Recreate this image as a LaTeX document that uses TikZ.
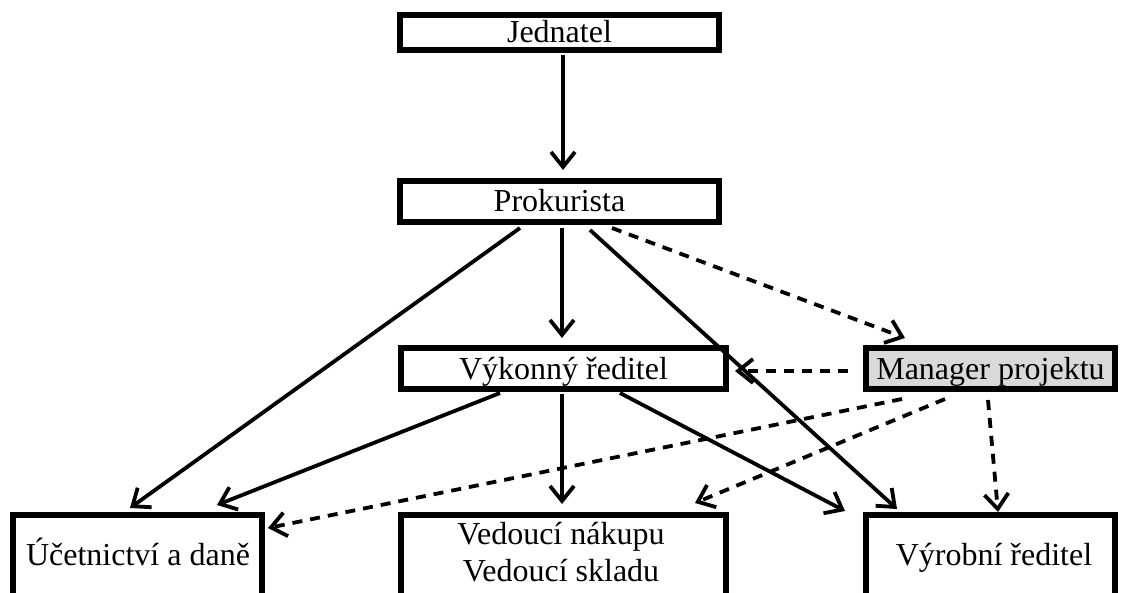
\documentclass[tikz,border=0pt]{standalone}
\usepackage{fontspec}
\setmainfont{Liberation Serif}
\usetikzlibrary{arrows.meta,calc}
\definecolor{mgrfill}{RGB}{217,217,217}
\begin{document}
\begin{tikzpicture}[x=1pt,y=-1pt,
  box/.style={draw=black,line width=6pt,inner sep=0pt,minimum height=41pt,
    font=\fontsize{32}{37}\selectfont,text height=22pt,text depth=1pt},
  lowbox/.style={draw=black,line width=6pt,inner sep=0pt,minimum width=249pt,
    minimum height=150pt,anchor=north},
  txt/.style={inner sep=0pt,font=\fontsize{32}{37}\selectfont},
  conn/.style={line width=3.8pt,-{Straight Barb[length=15pt,width=24pt]}},
  dconn/.style={conn,dash pattern=on 10pt off 8pt}]
\useasboundingbox (0,0) rectangle (1124,593);
\clip (0,0) rectangle (1124,593);
% boxes
\node[box,minimum width=319pt,minimum height=35pt] (J) at (559.5,32.5) {Jednatel};
\node[box,minimum width=319pt] (P) at (559.5,201.5) {Prokurista};
\node[box,minimum width=325pt] (V) at (563.5,368.5) {Výkonný ředitel};
\node[box,minimum width=249pt,fill=mgrfill] (M) at (990.5,368.5) {Manager projektu};
\node[lowbox] (U) at (137.5,512) {};
\node[lowbox,minimum width=325pt] (Ved) at (563.5,512) {};
\node[lowbox] (R) at (990.5,512) {};
\node[txt,anchor=base] (Ut) at (138,565) {Účetnictví a daně};
\node[txt,align=center] (Vedt) at (561,552) {Vedoucí nákupu\\Vedoucí skladu};
\node[txt,anchor=base] (Rt) at (994,565) {Výrobní ředitel};
% solid connectors
\draw[conn] ($(J.south)+(3.5,2)$) -- ($(P.north)+(3.5,-8)$);
\draw[conn] ($(P.south)+(2.5,3)$) -- ($(V.north)+(-1.5,-7)$);
\draw[conn] ($(P.south)+(-39.5,3)$) -- ($(U.north)+(-7.5,-4)$);
\draw[conn] ($(P.south)+(30.5,5)$) -- ($(R.north)+(-93.5,-3)$);
\draw[conn] ($(V.south)+(-63.5,1)$) -- ($(U.north)+(79.5,-7)$);
\draw[conn] ($(V.south)+(-1.5,2)$) -- ($(Ved.north)+(-1.5,-8)$);
\draw[conn] ($(V.south)+(56.5,1)$) -- ($(R.north)+(-145.5,-1)$);
% dashed connectors
\draw[dconn] ($(P.south)+(52.5,3)$) -- ($(M.north)+(-85.5,-7)$);
\draw[dconn] ($(M.west)+(-15,2.5)$) -- ($(V.east)+(6,2.5)$);
\draw[dconn] ($(M.south)+(-88.5,7)$) -- ($(U.north east)+(3,16)$);
\draw[dconn] ($(M.south)+(-45.5,7)$) -- ($(Ved.north)+(131.5,-9)$);
\draw[dconn] ($(M.south)+(-2.5,8)$) -- ($(R.north)+(7.5,0)$);
\end{tikzpicture}
\end{document}
